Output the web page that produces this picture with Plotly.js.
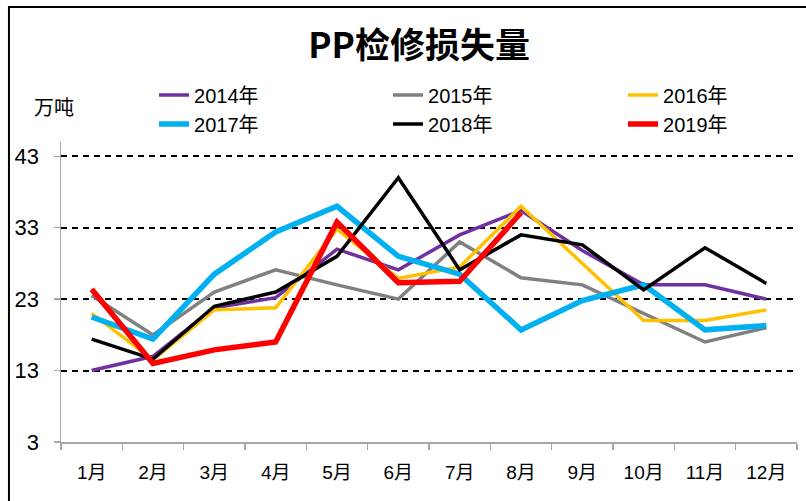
<!DOCTYPE html>
<html>
<head>
<meta charset="utf-8">
<script src="https://cdn.plot.ly/plotly-3.0.1.min.js"></script>
<style>html,body{margin:0;padding:0;background:#fff;}#chart{width:806px;height:501px;}</style>
</head>
<body>
<div id="chart"></div>
<script>
const months = ['1月','2月','3月','4月','5月','6月','7月','8月','9月','10月','11月','12月'];
const y2014 = [13, 15, 21.8, 23.2, 30, 27.1, 32, 35.4, 29.8, 25, 25, 23];
const y2015 = [23.5, 18, 24, 27.1, 25, 23, 31, 26, 25, 21, 17, 19];
const y2016 = [21, 14.5, 21.5, 21.8, 32.8, 25.9, 27.5, 36, 28, 20, 20, 21.5];
const y2017 = [20.5, 17.4, 26.5, 32.4, 36, 29, 26.5, 18.7, 22.8, 25, 18.7, 19.3];
const y2018 = [17.4, 14.6, 22, 24, 29, 40, 27.1, 32, 30.6, 24.3, 30.2, 25.2];
const y2019 = [24.4, 14, 15.9, 17, 33.8, 25.3, 25.5, 35.1];
const seriesNames = ['2014年','2015年','2016年','2017年','2018年','2019年'];
const colors = ['#7030A0','#808080','#FFC000','#00B0F0','#000000','#FF0000'];
const widths = [3.5, 3.5, 3.5, 5.5, 3.5, 5.5];
const legendIds = ['legend','legend2','legend3','legend','legend2','legend3'];
const yTickVals = [3, 13, 23, 33, 43];

const seriesData = [y2014, y2015, y2016, y2017, y2018, y2019];
const traces = seriesData.map((ys, i) => ({
  type: 'scatter', mode: 'lines',
  x: months.slice(0, ys.length), y: ys,
  name: seriesNames[i],
  legend: legendIds[i],
  line: {color: colors[i], width: widths[i]},
  hoverinfo: 'skip'
}));

const fontMain = '"Liberation Sans", Arial, "Noto Sans CJK SC", sans-serif';

function legendAt(x) {
  return {
    orientation: 'v',
    x: x, xanchor: 'left',
    y: 1.222, yanchor: 'top',
    font: {family: fontMain, size: 20, color: '#000'},
    bgcolor: 'rgba(0,0,0,0)', borderwidth: 0,
    traceorder: 'normal', tracegroupgap: 0
  };
}

const layout = {
  width: 806, height: 501,
  margin: {l: 61, r: 9, t: 142, b: 59, pad: 0},
  paper_bgcolor: '#ffffff', plot_bgcolor: '#ffffff',
  showlegend: true,
  title: {
    text: '<b>PP检修损失量</b>',
    font: {family: '"Noto Sans CJK SC", sans-serif', size: 35, color: '#000'},
    x: 0.52, xref: 'container', xanchor: 'center',
    y: 0.908, yref: 'container', yanchor: 'middle'
  },
  legend: legendAt(0.1264),
  legend2: legendAt(0.4443),
  legend3: legendAt(0.7636),
  xaxis: {
    type: 'category',
    categoryorder: 'array', categoryarray: months,
    range: [-0.5, 11.5],
    showgrid: false, zeroline: false,
    showline: true, linecolor: '#a6a6a6', linewidth: 1.5,
    ticks: 'outside', tickson: 'boundaries', ticklen: 6, tickwidth: 1.5, tickcolor: '#a6a6a6',
    tickfont: {family: fontMain, size: 19, color: '#000'},
    ticklabelstandoff: 13,
    fixedrange: true
  },
  yaxis: {
    range: [3, 45],
    tickmode: 'array', tickvals: yTickVals, ticktext: yTickVals.map(String),
    showgrid: true, gridcolor: '#000000', gridwidth: 2, griddash: '6px,5px',
    zeroline: false,
    showline: true, linecolor: '#a6a6a6', linewidth: 1.5,
    ticks: 'outside', ticklen: 6, tickwidth: 1.5, tickcolor: '#a6a6a6',
    tickfont: {family: fontMain, size: 22, color: '#000'},
    ticklabelstandoff: 10,
    fixedrange: true
  },
  annotations: [{
    text: '万吨', xref: 'paper', yref: 'paper',
    x: -0.0095, y: 1.118, xanchor: 'center', yanchor: 'middle',
    showarrow: false,
    font: {family: '"Noto Sans CJK SC", sans-serif', size: 20, color: '#000'}
  }],
  shapes: [{
    type: 'rect', xref: 'paper', yref: 'paper',
    x0: -0.0707, x1: 1.2, y0: -0.5, y1: 1.45,
    line: {color: '#000', width: 2}, fillcolor: 'rgba(0,0,0,0)', layer: 'below'
  }]
};

Plotly.newPlot('chart', traces, layout, {displayModeBar: false, staticPlot: true});
</script>
</body>
</html>
